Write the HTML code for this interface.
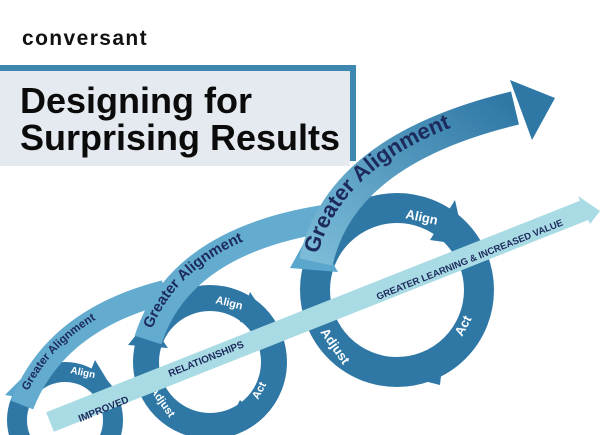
<!DOCTYPE html>
<html><head><meta charset="utf-8"><style>
html,body{margin:0;padding:0;background:#fff;width:600px;height:435px;overflow:hidden;}
body{position:relative;font-family:"Liberation Sans",sans-serif;}
</style></head><body>
<svg width="600" height="435" viewBox="0 0 600 435" xmlns="http://www.w3.org/2000/svg" style="position:absolute;left:0;top:0;display:block">
<defs>
<linearGradient id="g1" x1="0" y1="1" x2="1" y2="0"><stop offset="0" stop-color="#7cbcd8"/><stop offset="1" stop-color="#2f78a6"/></linearGradient>
<path id="pBig" d="M 316 262 Q 340 150 515 108"/>
<path id="pMid" d="M 148 340 Q 180 240 330 218"/>
<path id="pSmall" d="M 22 405 Q 55 320 165 292"/>
<path id="pBar" d="M 50 422 L 585 210"/>
</defs>
<!-- header -->
<text x="22" y="45" font-size="21" font-weight="bold" fill="#111" letter-spacing="1.4">conversant</text>
<rect x="0" y="65" width="356" height="96" fill="#3d87b0"/>
<rect x="0" y="71" width="350" height="95" fill="#e5eaf0"/>
<text x="20" y="113" font-size="36" font-weight="bold" fill="#0b0b0b">Designing for</text>
<text x="20" y="150" font-size="36" font-weight="bold" fill="#0b0b0b">Surprising Results</text>

<!-- small ring -->
<circle cx="65" cy="420" r="48" fill="none" stroke="#2f78a6" stroke-width="20"/>
<polygon points="95,360 112,388 85,385" fill="#2f78a6"/>
<polygon points="5,395 25,375 35,400" fill="#5aa6cc"/>
<use href="#pSmall" stroke="#63acd0" stroke-width="24" fill="none"/>
<text font-size="11.5" font-weight="bold" fill="#1d2a5c"><textPath href="#pSmall" startOffset="8%" dy="4">Greater Alignment</textPath></text>
<text x="70" y="373" font-size="10" font-weight="bold" fill="#fff" transform="rotate(12 70 373)">Align</text>

<!-- middle ring -->
<circle cx="210" cy="362" r="64" fill="none" stroke="#2f78a6" stroke-width="26"/>
<polygon points="250,292 272,325 240,322" fill="#2f78a6"/>
<polygon points="255,415 222,435 240,400" fill="#2f78a6"/>
<polygon points="128,345 148,320 168,348" fill="#2f78a6"/>
<use href="#pMid" stroke="#63acd0" stroke-width="28" fill="none"/>
<text font-size="15" font-weight="bold" fill="#1d2a5c"><textPath href="#pMid" startOffset="5%" dy="5">Greater Alignment</textPath></text>
<text x="215" y="303" font-size="11" font-weight="bold" fill="#fff" transform="rotate(14 215 303)">Align</text>
<text x="258" y="400" font-size="11" font-weight="bold" fill="#fff" transform="rotate(-62 258 400)">Act</text>
<text x="150" y="390" font-size="11" font-weight="bold" fill="#fff" transform="rotate(55 150 390)">Adjust</text>

<!-- large ring -->
<circle cx="397" cy="290" r="82" fill="none" stroke="#2f78a6" stroke-width="30"/>
<polygon points="455,200 465,245 430,240" fill="#2f78a6"/>
<polygon points="445,340 440,385 400,375" fill="#2f78a6"/>
<polygon points="290,268 312,228 338,272" fill="#5aa6cc"/>

<!-- bar -->
<use href="#pBar" stroke="#a9dbe4" stroke-width="21" fill="none"/>
<polygon points="578,196 600,211 590,224" fill="#a9dbe4"/>
<text x="80" y="422" font-size="10" font-weight="bold" fill="#1d2a5c" transform="rotate(-22 80 422)">IMPROVED</text>
<text x="170" y="377" font-size="10" font-weight="bold" fill="#1d2a5c" transform="rotate(-22 170 377)">RELATIONSHIPS</text>
<text x="378" y="300" font-size="9.5" font-weight="bold" fill="#1d2a5c" transform="rotate(-22 378 300)">GREATER LEARNING &amp; INCREASED VALUE</text>

<use href="#pBig" stroke="url(#g1)" stroke-width="34" fill="none"/>
<polygon points="510,80 555,98 532,140" fill="#2f78a6"/>
<text font-size="22" font-weight="bold" fill="#1d2a5c"><textPath href="#pBig" startOffset="3%" dy="7">Greater Alignment</textPath></text>
<text x="405" y="218" font-size="13" font-weight="bold" fill="#fff" transform="rotate(12 405 218)">Align</text>
<text x="462" y="337" font-size="13" font-weight="bold" fill="#fff" transform="rotate(-62 462 337)">Act</text>
<text x="320" y="332" font-size="13" font-weight="bold" fill="#fff" transform="rotate(55 320 332)">Adjust</text>
</svg>
</body></html>
